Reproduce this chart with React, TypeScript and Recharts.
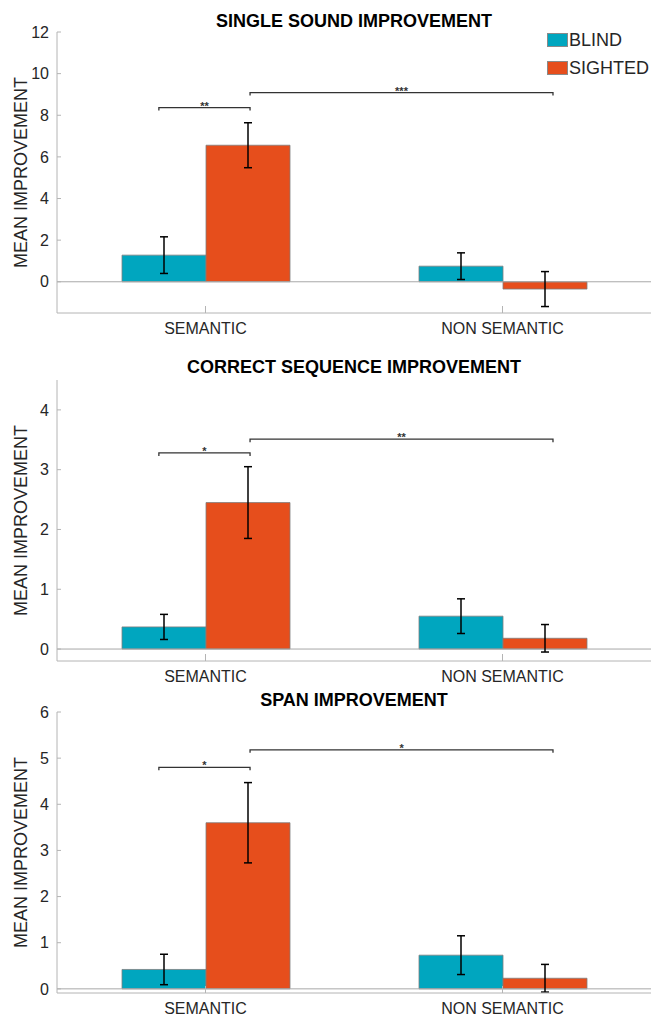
import React from 'react';
import { BarChart, Bar, XAxis, YAxis, ErrorBar, ReferenceLine, Legend, Label } from 'recharts';

// ---- data ----
const categories = ['SEMANTIC', 'NON SEMANTIC'];
const categoryPos = [1, 2];
const seriesNames = ['BLIND', 'SIGHTED'];

const singleBlind = [1.28, 0.75];
const singleBlindErr = [0.88, 0.64];
const singleSighted = [6.56, -0.35];
const singleSightedErr = [1.08, 0.84];

const seqBlind = [0.37, 0.55];
const seqBlindErr = [0.21, 0.29];
const seqSighted = [2.45, 0.18];
const seqSightedErr = [0.6, 0.23];

const spanBlind = [0.42, 0.73];
const spanBlindErr = [0.33, 0.42];
const spanSighted = [3.6, 0.23];
const spanSightedErr = [0.87, 0.3];

const singleTicks = [0, 2, 4, 6, 8, 10, 12];
const seqTicks = [0, 1, 2, 3, 4];
const spanTicks = [0, 1, 2, 3, 4, 5, 6];

const singleDomain = [-1.5, 12];
const seqDomain = [-0.2, 4.5];
const spanDomain = [-0.09, 6];

// significance brackets: x in category units (1 = SEMANTIC, 2 = NON SEMANTIC)
const singleBrackets = [
  { x1: 0.843, x2: 1.15, y: 8.37, label: '**' },
  { x1: 1.15, x2: 2.17, y: 9.09, label: '***' },
];
const seqBrackets = [
  { x1: 0.843, x2: 1.15, y: 3.28, label: '*' },
  { x1: 1.15, x2: 2.17, y: 3.51, label: '**' },
];
const spanBrackets = [
  { x1: 0.843, x2: 1.15, y: 4.8, label: '*' },
  { x1: 1.15, x2: 2.17, y: 5.18, label: '*' },
];

// ---- styles ----
const FONT = '"Liberation Sans", Arial, Helvetica, sans-serif';
const BLUE = '#00A6BF';
const ORANGE = '#E64E1C';
const AXIS = '#b4b4b4';
const TEXT = '#262626';

function buildRows(blind: number[], blindErr: number[], sighted: number[], sightedErr: number[]) {
  return categories.map((name, i) => ({
    name,
    pos: categoryPos[i],
    blind: blind[i],
    blindErr: blindErr[i],
    sighted: sighted[i],
    sightedErr: sightedErr[i],
  }));
}

const makeBracketShape = (label: string) => (props: any) => {
  const { x1, y1, x2 } = props;
  return (
    <g>
      <path
        d={`M${x1},${y1 + 3} L${x1},${y1} L${x2},${y1} L${x2},${y1 + 3}`}
        stroke="#333"
        strokeWidth={1.3}
        fill="none"
      />
      <text
        x={(x1 + x2) / 2}
        y={y1 + 2}
        textAnchor="middle"
        fontSize={11}
        fontWeight="bold"
        fill="#333"
        fontFamily={FONT}
      >
        {label}
      </text>
    </g>
  );
};

const YLabel = (props: any) => {
  const { viewBox } = props;
  const cx = 21;
  const cy = viewBox.y + viewBox.height / 2;
  return (
    <text
      x={cx}
      y={cy}
      transform={`rotate(-90, ${cx}, ${cy})`}
      textAnchor="middle"
      dominantBaseline="central"
      fontSize={18}
      fill={TEXT}
      fontFamily={FONT}
    >
      MEAN IMPROVEMENT
    </text>
  );
};

const LegendContent = (props: any) => {
  const { payload } = props;
  return (
    <div style={{ fontFamily: FONT }}>
      {(payload || []).map((p: any) => (
        <div key={p.value} style={{ display: 'flex', alignItems: 'center', height: 28 }}>
          <span
            style={{
              display: 'inline-block',
              width: 21,
              height: 14,
              background: p.color,
              border: '1px solid #8a8a8a',
              boxSizing: 'border-box',
            }}
          />
          <span style={{ fontSize: 18, color: TEXT, marginLeft: 1, lineHeight: '18px' }}>{p.value}</span>
        </div>
      ))}
    </div>
  );
};

type PanelProps = {
  top: number;
  titleTop: number;
  title: string;
  rows: any[];
  domain: number[];
  ticks: number[];
  brackets: { x1: number; x2: number; y: number; label: string }[];
  legend?: boolean;
};

function Panel({ top, titleTop, title, rows, domain, ticks, brackets, legend }: PanelProps) {
  return (
    <>
      <div
        style={{
          position: 'absolute',
          top: titleTop,
          left: 57,
          width: 594,
          textAlign: 'center',
          fontFamily: FONT,
          fontWeight: 'bold',
          fontSize: 18,
          lineHeight: '18px',
          color: '#000',
        }}
      >
        {title}
      </div>
      <div style={{ position: 'absolute', top, left: 0 }}>
        <BarChart
          width={651}
          height={340}
          data={rows}
          margin={{ top: 32, right: 0, left: 0, bottom: 0 }}
          barGap={0}
          barSize={84}
        >
          <XAxis
            dataKey="name"
            height={27}
            tickSize={-7}
            tickMargin={17}
            axisLine={{ stroke: AXIS }}
            tickLine={{ stroke: AXIS }}
            tick={{ fill: TEXT, fontSize: 16, fontFamily: FONT }}
            interval={0}
          />
          <XAxis
            xAxisId="num"
            dataKey="pos"
            type="number"
            domain={[0.5, 2.5]}
            hide
            allowDataOverflow
          />
          <YAxis
            type="number"
            width={57}
            domain={domain}
            ticks={ticks}
            allowDataOverflow
            tickSize={-4}
            tickMargin={12}
            axisLine={{ stroke: AXIS }}
            tickLine={{ stroke: AXIS }}
            tick={{ fill: TEXT, fontSize: 16, fontFamily: FONT }}
          >
            <Label content={<YLabel />} />
          </YAxis>
          <ReferenceLine y={0} stroke="#a8a8a8" strokeWidth={1} />
          <Bar
            dataKey="blind"
            name={seriesNames[0]}
            fill={BLUE}
            stroke="#7d7d7d"
            strokeWidth={0.8}
            isAnimationActive={false}
          >
            <ErrorBar dataKey="blindErr" width={4} stroke="#000" strokeWidth={1.5} direction="y" />
          </Bar>
          <Bar
            dataKey="sighted"
            name={seriesNames[1]}
            fill={ORANGE}
            stroke="#7d7d7d"
            strokeWidth={0.8}
            isAnimationActive={false}
          >
            <ErrorBar dataKey="sightedErr" width={4} stroke="#000" strokeWidth={1.5} direction="y" />
          </Bar>
          {brackets.map((b, i) => (
            <ReferenceLine
              key={i}
              xAxisId="num"
              segment={[
                { x: b.x1, y: b.y },
                { x: b.x2, y: b.y },
              ]}
              shape={makeBracketShape(b.label)}
              ifOverflow="visible"
            />
          ))}
          {legend ? (
            <Legend
              layout="vertical"
              align="center"
              verticalAlign="middle"
              wrapperStyle={{ top: 26, left: 547, width: 110 }}
              content={<LegendContent />}
            />
          ) : null}
        </BarChart>
      </div>
    </>
  );
}

export default function App() {
  return (
    <div
      style={{
        position: 'absolute',
        top: 0,
        left: 0,
        width: 651,
        height: 1017,
        background: '#fff',
        overflow: 'hidden',
      }}
    >
      <Panel
        top={0}
        titleTop={12}
        title="SINGLE SOUND IMPROVEMENT"
        rows={buildRows(singleBlind, singleBlindErr, singleSighted, singleSightedErr)}
        domain={singleDomain}
        ticks={singleTicks}
        brackets={singleBrackets}
        legend
      />
      <Panel
        top={348}
        titleTop={358}
        title="CORRECT SEQUENCE IMPROVEMENT"
        rows={buildRows(seqBlind, seqBlindErr, seqSighted, seqSightedErr)}
        domain={seqDomain}
        ticks={seqTicks}
        brackets={seqBrackets}
      />
      <Panel
        top={680}
        titleTop={691}
        title="SPAN IMPROVEMENT"
        rows={buildRows(spanBlind, spanBlindErr, spanSighted, spanSightedErr)}
        domain={spanDomain}
        ticks={spanTicks}
        brackets={spanBrackets}
      />
    </div>
  );
}
